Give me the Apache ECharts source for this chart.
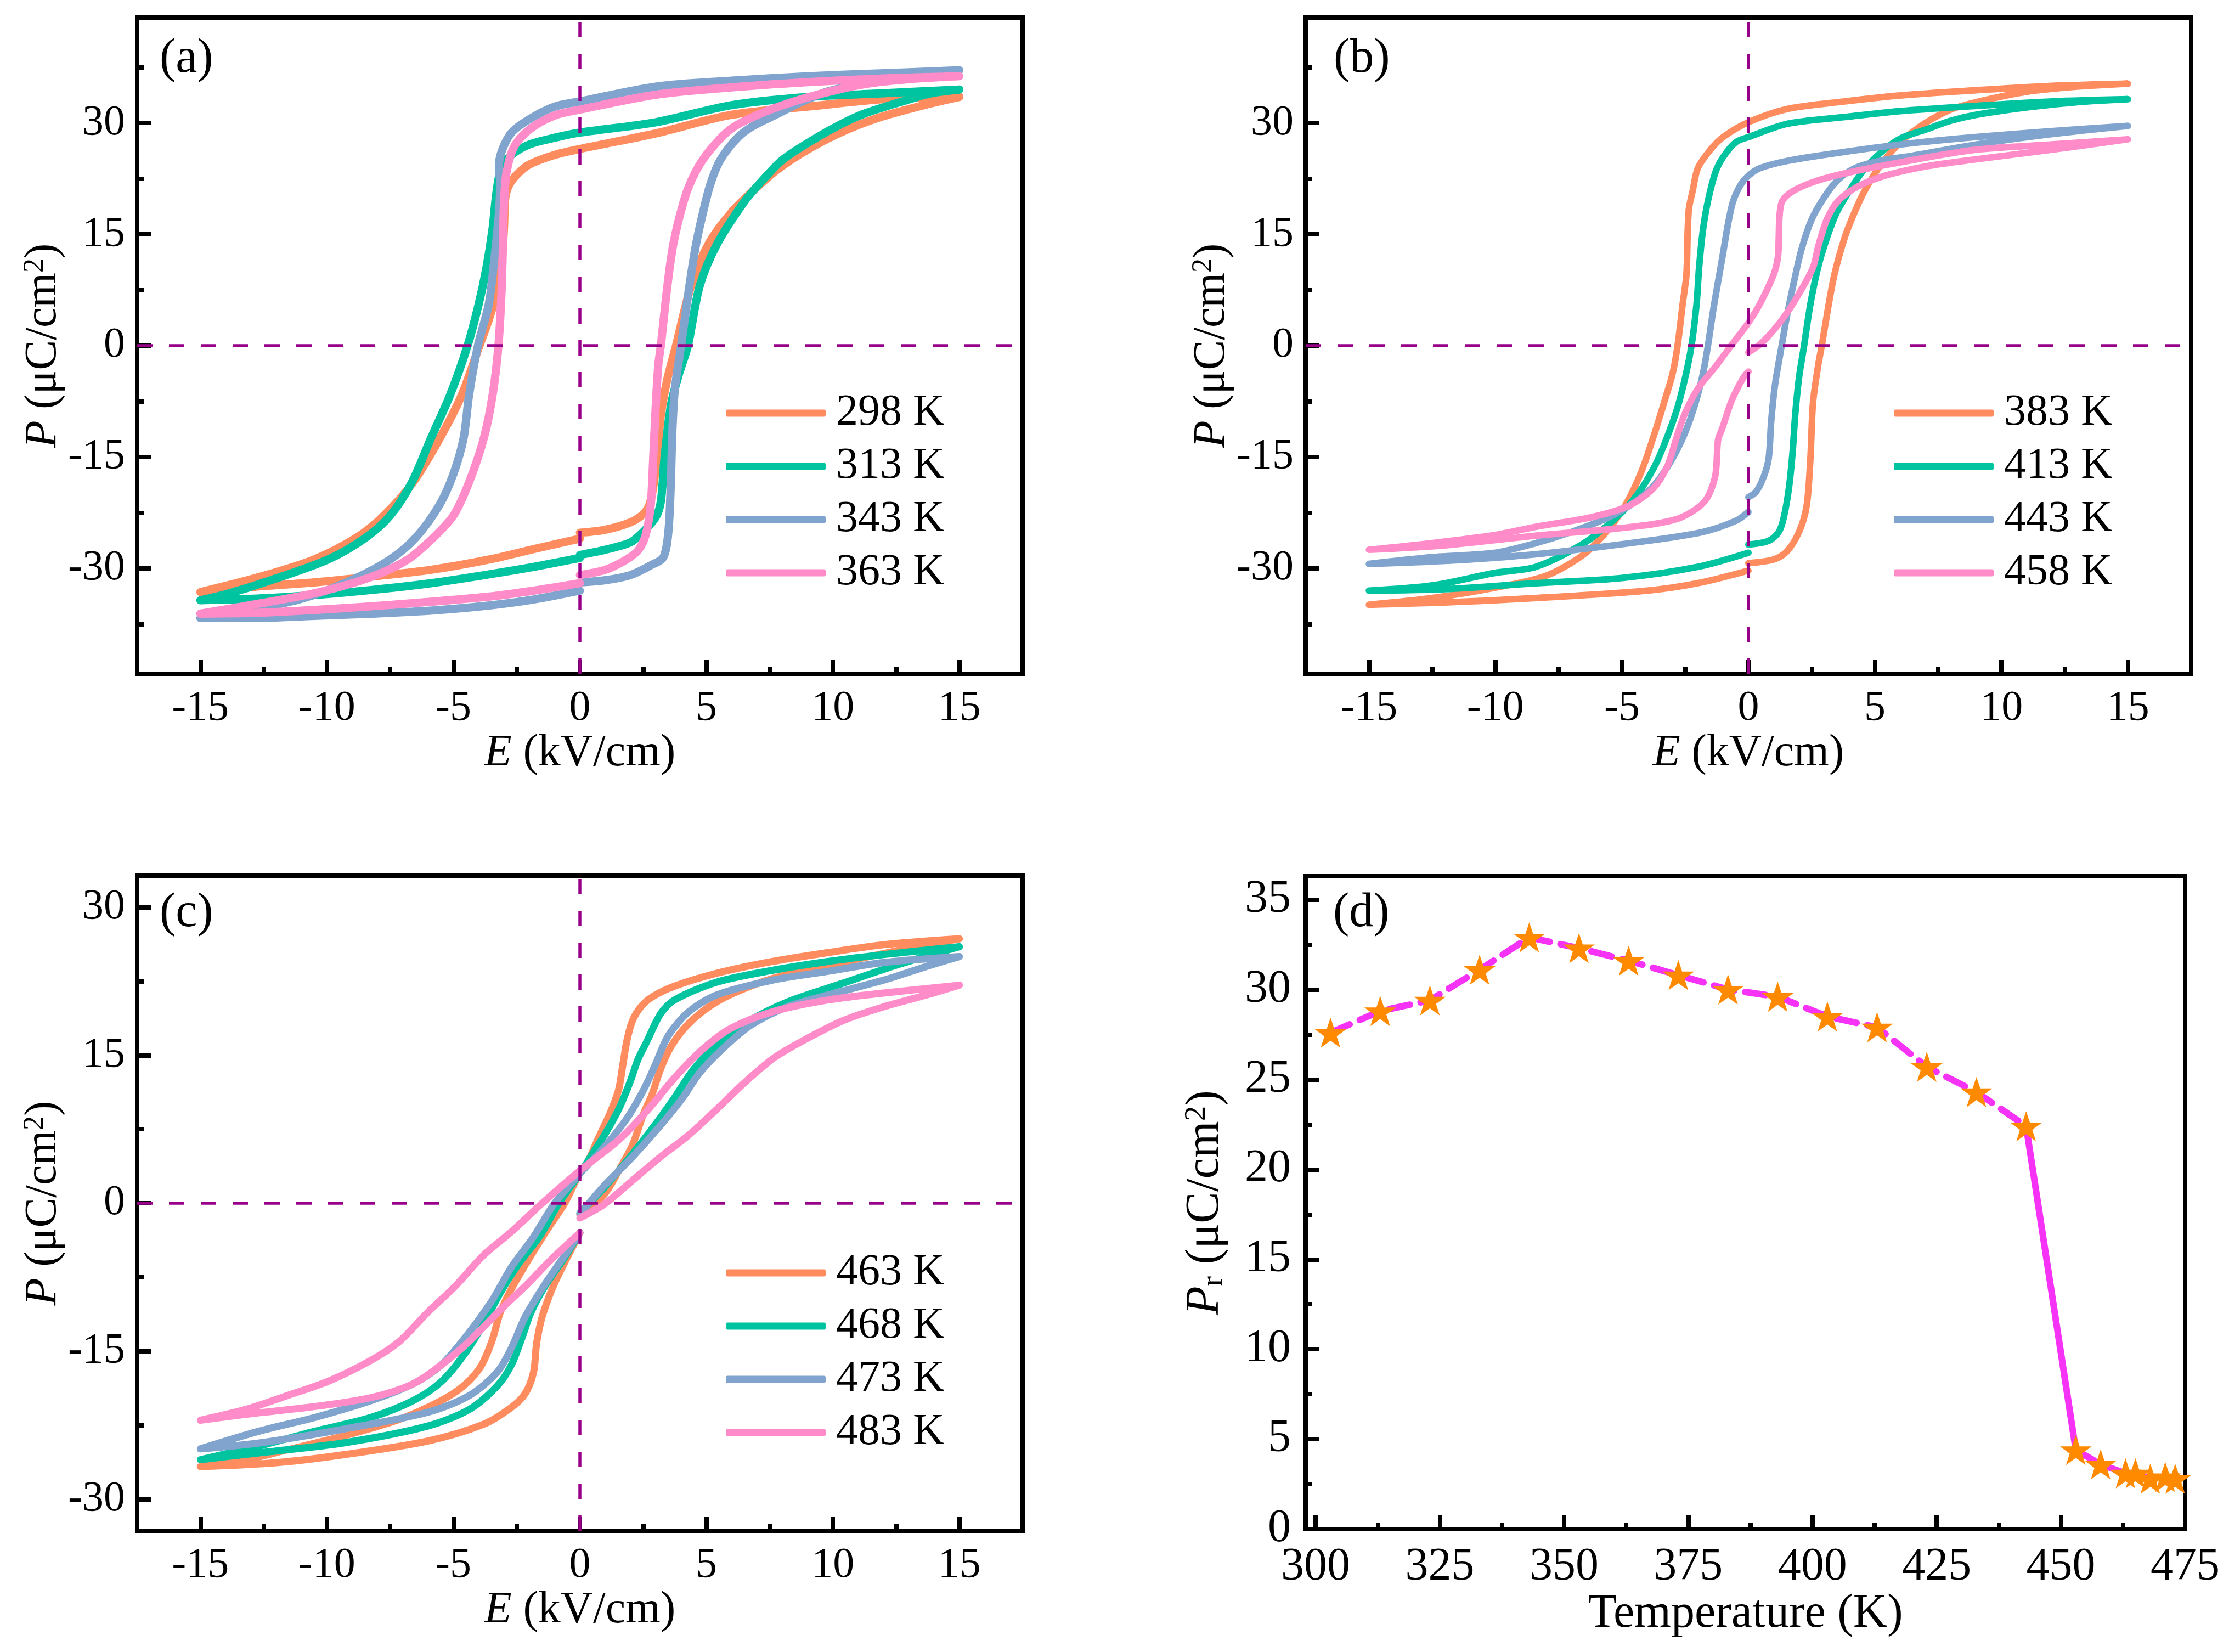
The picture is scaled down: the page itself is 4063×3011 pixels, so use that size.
<!DOCTYPE html>
<html>
<head>
<meta charset="utf-8">
<script src="https://cdn.jsdelivr.net/npm/echarts@6/dist/echarts.min.js"></script>
<style>
  html, body { margin: 0; padding: 0; background: #fff; }
  #chart { width: 4063px; height: 3011px; }
</style>
</head>
<body>
<div id="chart"></div>
<script>
// ---- data ----
// each loop: start at E=0 (lower branch) -> +15 -> upper branch -> -15 -> lower branch -> E=0
const namesA = ['298 K', '313 K', '343 K', '363 K'];
const namesB = ['383 K', '413 K', '443 K', '458 K'];
const namesC = ['463 K', '468 K', '473 K', '483 K'];

const loop298 = [[0,-25.2],[1,-24.8],[2,-23.8],[2.5,-22.7],[2.75,-21.4],[2.9,-19],[3.05,-14.9],[3.2,-9.4],[3.45,-4.6],[3.8,0],[4.4,8.1],[5.1,13.8],[6.0,18],[6.83,20.8],[7.76,23.6],[8.9,26.2],[10.3,28.7],[11.8,30.7],[13.6,32.4],[15,33.5],
  [12,33.2],[9,32.2],[6,31.1],[3,28.6],[0,26.5],[-1,25.7],[-2,24.4],[-2.5,23],[-2.8,21.6],[-2.95,19.9],[-3.0,15.8],[-3.1,11.1],[-3.3,7],[-3.6,3.5],[-3.97,0],[-4.67,-6.65],[-5.54,-12.5],[-6.59,-18.4],[-7.75,-22.9],[-8.8,-25.8],[-10.5,-28.8],[-12.6,-31.1],[-15,-33.2],
  [-12.9,-32.5],[-10.5,-31.9],[-8.2,-31.1],[-5.9,-30.2],[-3.57,-28.8],[-1.82,-27.4],[0,-26.0]];
const loop313 = [[0,-28.2],[1,-27.5],[2,-26.5],[2.5,-25.1],[3,-23.1],[3.2,-21],[3.35,-14.9],[3.6,-8],[3.9,-4],[4.27,0],[4.74,8.1],[5.44,13.8],[6.5,19.4],[7.2,22.2],[8.0,25],[9.3,27.9],[10.3,29.8],[11.2,31.2],[12.75,32.9],[13.9,34.0],[15,34.5],
  [12,34.0],[9,33.5],[6,32.4],[3,30.1],[0,28.7],[-1,28.0],[-2,27.1],[-2.7,25.7],[-3.1,24],[-3.3,20.6],[-3.45,15.8],[-3.7,10.4],[-4.0,5.6],[-4.44,0],[-5.13,-6.65],[-5.89,-12.5],[-6.64,-18.4],[-7.5,-22.9],[-8.44,-25.8],[-9.95,-28.8],[-12.3,-31.7],[-14,-33.5],[-15,-34.3],
  [-12.9,-34.1],[-10.5,-33.6],[-8.2,-32.9],[-5.9,-32.0],[-3.57,-30.8],[-1.82,-29.8],[0,-28.6]];
const loop343 = [[0,-31.9],[1,-31.6],[2,-30.9],[2.8,-29.6],[3.3,-28.5],[3.5,-25],[3.6,-18],[3.65,-12],[3.75,-6],[4.0,0],[4.33,8.1],[4.6,13.8],[4.97,19.4],[5.2,22.2],[5.55,25],[6.2,27.9],[6.8,29.5],[7.8,31.2],[8.8,32.9],[9.85,34.3],[11.2,35.3],[13,36.3],[15,37.1],
  [12,36.7],[9,36.3],[6,35.7],[3,34.9],[0,32.9],[-1,32.2],[-2,30.5],[-2.7,28.7],[-3.1,26.1],[-3.2,24],[-3.15,22],[-3.2,17.9],[-3.4,11.1],[-3.6,5.6],[-4.03,0],[-4.38,-6.65],[-4.6,-12.5],[-5.0,-17.3],[-5.54,-21.4],[-6.47,-25.8],[-7.5,-28.8],[-9.1,-31.7],[-11,-34.1],[-12.9,-35.5],[-15,-36.7],
  [-12.9,-36.7],[-10.5,-36.4],[-8.2,-36.1],[-5.9,-35.7],[-3.57,-35.0],[-1.82,-34.2],[0,-33.0]];
const loop363 = [[0,-30.9],[1,-30.2],[1.8,-28.9],[2.3,-27.6],[2.6,-25.5],[2.8,-21.5],[2.9,-15],[3.0,-8],[3.1,-2.6],[3.2,0],[3.46,8.1],[3.7,13.8],[4.1,19.4],[4.4,22.2],[4.85,25],[5.55,27.9],[6.1,29.5],[7.1,31.2],[8.2,32.6],[9.5,33.9],[11.2,35.2],[13,35.9],[15,36.3],
  [12,36.0],[9,35.5],[6,34.8],[3,33.8],[0,31.8],[-1,31.0],[-2,29.1],[-2.6,26.8],[-2.9,23.3],[-3.0,19.2],[-3.05,12.4],[-3.1,7],[-3.22,0],[-3.45,-6.65],[-3.8,-12.5],[-4.38,-18.4],[-5.0,-22.9],[-5.77,-25.8],[-6.8,-28.8],[-8.2,-31.1],[-10.3,-33.2],[-12.6,-34.7],[-15,-36.1],
  [-12.9,-36.0],[-10.5,-35.6],[-8.2,-35.1],[-5.9,-34.5],[-3.57,-33.8],[-1.82,-33.0],[0,-32.0]];

const loop383 = [[0,-29.3],[1,-28.8],[1.5,-27.8],[2,-25.1],[2.3,-21.6],[2.45,-15.2],[2.55,-7.8],[2.75,-2.8],[2.9,0],[3.15,5.1],[3.4,9.6],[3.8,14.5],[4.2,18.0],[4.6,20.9],[5.2,24.2],[6,27.4],[7,30.0],[8,31.8],[9,32.8],[11,34.2],[13,34.9],[15,35.3],
  [12,35.0],[9,34.4],[6,33.7],[3.8,32.9],[1.56,31.9],[0,30.1],[-1,28.1],[-1.5,26.4],[-2,23.9],[-2.2,20.9],[-2.35,18.5],[-2.4,15.5],[-2.45,9.6],[-2.6,5.6],[-2.8,0],[-3.0,-3.8],[-3.3,-7.3],[-3.7,-11.7],[-4.2,-16.7],[-4.8,-21.1],[-5.5,-24.6],[-6.5,-28.1],[-8,-31.0],[-10,-32.6],[-12.5,-34.0],[-15,-34.9],
  [-12,-34.6],[-8.4,-34.0],[-4,-33.0],[-2,-32.0],[0,-30.3]];
const loop413 = [[0,-26.8],[0.8,-26.3],[1.2,-25.1],[1.4,-23.1],[1.6,-19.2],[1.75,-14.2],[1.85,-9.3],[2.0,-4.3],[2.2,0],[2.45,5.6],[2.75,10.5],[3.1,14.5],[3.5,18],[4.0,20.9],[4.5,23.4],[5.2,25.9],[6,27.9],[7,29.1],[8,30.3],[9,31.1],[11,32.1],[13,32.8],[15,33.2],
  [12,32.9],[9,32.3],[6,31.6],[3.8,30.8],[1.56,29.9],[0,28.1],[-0.5,27.4],[-1,25.4],[-1.3,23.4],[-1.6,19.5],[-1.8,15.5],[-1.95,10.5],[-2.05,5.6],[-2.25,0],[-2.5,-4.3],[-2.8,-8.3],[-3.2,-12.2],[-3.7,-16.2],[-4.4,-20.1],[-5.2,-23.1],[-6.5,-26.6],[-8.4,-29.8],[-10,-30.6],[-12.5,-32.3],[-15,-33.0],
  [-12,-32.8],[-8.4,-32.0],[-5,-31.3],[-2,-29.8],[0,-27.9]];
const loop443 = [[0,-20.4],[0.3,-19.7],[0.6,-17.7],[0.8,-15.2],[0.9,-10.2],[1.05,-5.3],[1.3,-0.3],[1.5,3.6],[1.8,8.6],[2.1,13.0],[2.5,17.0],[3.0,20.0],[3.5,22.2],[4.2,23.9],[5.2,24.9],[6.5,25.6],[9,27.1],[12,28.5],[15,29.6],
  [12,28.9],[9,28.1],[6,27.1],[3.8,26.1],[1.56,24.9],[0.45,23.9],[0,22.9],[-0.3,21.7],[-0.6,19.5],[-0.8,16.5],[-1.0,12.5],[-1.2,8.6],[-1.4,4.6],[-1.6,0],[-1.8,-3.8],[-2.1,-7.8],[-2.5,-11.7],[-3.0,-15.2],[-3.7,-18.7],[-4.5,-21.1],[-5.5,-23.1],[-7,-25.1],[-8.4,-26.6],[-10,-27.9],[-12.5,-28.5],[-15,-29.4],
  [-12,-29.0],[-8.4,-28.1],[-4,-26.3],[-1.8,-25.1],[-0.5,-23.6],[0,-22.4]];
const loop458 = [[0,-0.9],[0.45,0.15],[1.0,2.1],[1.56,4.6],[2.1,7.6],[2.55,10.5],[2.77,13.5],[3.1,17.0],[3.55,19.5],[4.3,21.4],[5.4,22.9],[7.1,24.2],[9,25.1],[12,26.4],[15,27.8],
  [12,27.1],[9,26.4],[6,24.7],[3.8,23.2],[2.7,22.2],[1.8,20.9],[1.34,19.5],[1.23,17.5],[1.2,14.5],[1.17,12.0],[1.0,9.6],[0.45,5.6],[0,3.1],[-0.65,0.15],[-1.3,-2.8],[-2.0,-5.8],[-2.53,-9.3],[-2.87,-12.7],[-3.2,-16.2],[-3.75,-19.2],[-4.75,-21.6],[-6.2,-23.1],[-8.4,-24.4],[-10,-25.5],[-12.5,-26.6],[-15,-27.5],
  [-12,-26.9],[-8.4,-25.6],[-5.1,-24.6],[-2.87,-23.4],[-1.76,-21.1],[-1.32,-17.7],[-1.2,-12.7],[-1.04,-11.2],[-0.65,-7.3],[-0.2,-4.3],[0,-3.5]];

const loop463 = [[0,-1.2],[0.97,0.9],[1.64,3.8],[2.08,5.9],[2.52,9.1],[2.85,11.0],[3.19,13.6],[3.63,16.0],[4.3,18.2],[5.4,20.4],[7.06,22.3],[8.7,23.5],[10.9,24.7],[13.1,25.9],[15,26.8],
  [12,26.2],[9.8,25.4],[7.6,24.5],[5.4,23.3],[3.74,22.0],[2.85,20.9],[2.41,19.9],[2.08,18.5],[1.86,16.5],[1.69,13.9],[1.53,11.5],[1.19,9.1],[0.75,6.7],[0.31,4.2],[0,3.1],[-0.6,0],[-1.27,-2.6],[-2.05,-5.8],[-2.71,-8.7],[-3.15,-11.1],[-3.48,-14.0],[-3.93,-16.6],[-4.59,-18.5],[-5.48,-20.0],[-7.13,-21.9],[-9.35,-23.6],[-11.56,-25.0],[-13.2,-26.0],[-15,-26.7],
  [-12,-26.3],[-9.35,-25.5],[-6.0,-24.1],[-3.8,-22.4],[-2.71,-20.7],[-2.16,-19.3],[-1.83,-17.1],[-1.71,-14.2],[-1.49,-11.5],[-1.05,-8.4],[-0.5,-5.5],[0,-3.0]];
const loop468 = [[0,-1.0],[0.97,1.6],[2.08,5.0],[2.96,7.9],[3.74,10.7],[4.5,13.6],[5.4,16.0],[6.5,18.2],[8.2,20.4],[10.4,22.3],[12.6,24.2],[15,26.0],
  [12,25.2],[9.8,24.5],[7.6,23.6],[5.4,22.4],[3.74,20.6],[3.19,19.2],[2.63,16.3],[2.3,14.6],[1.97,12.2],[1.53,9.5],[0.97,6.9],[0.42,4.7],[0,3.0],[-0.83,0],[-1.6,-3.4],[-2.38,-6.0],[-3.15,-9.1],[-3.82,-12.3],[-4.59,-15.4],[-5.48,-18.1],[-6.58,-20.0],[-8.24,-21.7],[-10.45,-23.1],[-12.67,-24.6],[-15,-26.0],
  [-12.67,-25.3],[-9.35,-24.3],[-6.03,-22.6],[-4.37,-20.9],[-3.26,-18.5],[-2.71,-16.4],[-2.27,-13.5],[-1.94,-11.1],[-1.38,-8.4],[-0.6,-5.5],[0,-3.0]];
const loop473 = [[0,-1.1],[0.97,1.8],[2.08,4.7],[3.19,7.9],[4.07,10.7],[4.73,13.2],[5.62,15.6],[6.73,18.0],[8.2,19.9],[9.8,21.1],[12.0,22.6],[13.7,24.0],[15,25.0],
  [12,24.4],[9.8,23.5],[7.6,22.6],[5.4,21.1],[4.3,19.4],[3.5,17.0],[2.96,13.9],[2.52,11.5],[1.86,8.6],[0.97,5.7],[0,3.0],[-1.0,0],[-1.83,-3.4],[-2.71,-6.5],[-3.48,-9.9],[-4.5,-13.5],[-5.48,-16.4],[-6.58,-18.3],[-8.24,-20.0],[-10.45,-21.7],[-12.67,-23.1],[-15,-24.9],
  [-12.67,-24.3],[-9.35,-22.9],[-6.03,-21.2],[-4.37,-19.5],[-3.26,-17.1],[-2.71,-14.7],[-2.16,-11.5],[-1.38,-8.2],[-0.6,-5.3],[0,-3.0]];
const loop483 = [[0,-1.5],[0.97,-0.1],[2.08,2.3],[3.19,4.7],[4.3,6.9],[5.4,9.5],[6.5,12.2],[7.6,14.6],[8.7,16.3],[10.4,18.5],[12.0,19.9],[13.7,21.1],[15,22.1],
  [12,21.3],[9.8,20.6],[7.6,19.4],[5.95,17.7],[4.85,15.6],[3.74,12.7],[2.63,9.3],[1.53,6.4],[0,3.3],[-1.49,0],[-2.71,-2.9],[-3.82,-5.3],[-4.92,-8.4],[-6.03,-11.1],[-7.13,-14.0],[-8.24,-15.9],[-9.9,-18.0],[-11.56,-19.5],[-13.2,-20.9],[-15,-22.0],
  [-13.2,-21.4],[-10.45,-20.6],[-8.24,-19.7],[-6.58,-18.3],[-5.48,-16.4],[-4.37,-14.0],[-3.26,-11.1],[-2.16,-8.4],[-1.05,-5.5],[0,-3.0]];

const prTemp  = [303, 313, 323, 333, 343, 353, 363, 373, 383, 393, 403, 413, 423, 433, 443, 453, 458, 463, 465, 468, 471, 473];
const prValue = [27.6, 28.8, 29.4, 31.1, 32.9, 32.3, 31.6, 30.8, 30.0, 29.6, 28.5, 27.9, 25.7, 24.3, 22.4, 4.4, 3.6, 3.1, 3.1, 2.8, 2.9, 2.8];

// tick labels
const eTicks = [-15, -10, -5, 0, 5, 10, 15];
const eMinor = [-12.5, -7.5, -2.5, 2.5, 7.5, 12.5];
const pTicks = [-30, -15, 0, 15, 30];
const pMinorAB = [-37.5, -22.5, -7.5, 7.5, 22.5, 37.5];
const pMinorC = [-22.5, -7.5, 7.5, 22.5];
const tTicks = [300, 325, 350, 375, 400, 425, 450, 475];
const tMinor = [312.5, 337.5, 362.5, 387.5, 412.5, 437.5, 462.5];
const prTicks = [0, 5, 10, 15, 20, 25, 30, 35];
const prMinor = [2.5, 7.5, 12.5, 17.5, 22.5, 27.5, 32.5];

const FONT = '"Liberation Serif", "Times New Roman", "DejaVu Serif", serif';
const colors = ['#FF8C5F', '#00C4A0', '#80A4CE', '#FF8BC8'];
const zeroColor = '#98008A';

const chart = echarts.init(document.getElementById('chart'));

const grids = [
  { left: 250, top: 32, width: 1614, height: 1196 },
  { left: 2380, top: 32, width: 1614, height: 1196 },
  { left: 250, top: 1596, width: 1614, height: 1194 },
  { left: 2380, top: 1597, width: 1603, height: 1190 }
];

function mainAxis(gi, min, max, ticks, o) {
  return {
    type: 'value', gridIndex: gi, min: min, max: max, position: o.pos,
    axisLine: { show: true, onZero: false, lineStyle: { color: '#000', width: 8 } },
    axisTick: { show: true, inside: true, length: 25, customValues: ticks, lineStyle: { color: '#000', width: 8 } },
    axisLabel: { customValues: ticks, margin: o.margin, color: '#000', fontFamily: FONT, fontSize: o.fontSize },
    splitLine: { show: false },
    name: o.name, nameLocation: 'middle', nameGap: o.nameGap,
    nameTextStyle: {
      color: '#000', fontFamily: FONT, fontSize: o.titleSize,
      rich: {
        n: { fontFamily: FONT, fontSize: o.titleSize },
        i: { fontStyle: 'italic', fontFamily: FONT, fontSize: o.titleSize },
        sup: { fontFamily: FONT, fontSize: Math.round(o.titleSize * 0.64), verticalAlign: 'top' },
        sub: { fontFamily: FONT, fontSize: Math.round(o.titleSize * 0.64), verticalAlign: 'bottom' }
      }
    }
  };
}
function minorAxis(gi, min, max, ticks, pos) {
  return {
    type: 'value', gridIndex: gi, min: min, max: max, position: pos,
    axisLine: { show: false, onZero: false },
    axisTick: { show: true, inside: true, length: 12, customValues: ticks, lineStyle: { color: '#000', width: 8 } },
    axisLabel: { show: false },
    splitLine: { show: false }
  };
}

const eName = '{i|E}{n| (kV/cm)}';
const pName = '{i|P}{n| (μC/cm}{sup|2}{n|)}';

const xAxes = [], yAxes = [];
[0, 1, 2].forEach(gi => {
  xAxes.push(mainAxis(gi, -17.5, 17.5, eTicks, { pos: 'bottom', margin: 25, fontSize: 78, name: eName, nameGap: 104, titleSize: 82 }));
  xAxes.push(minorAxis(gi, -17.5, 17.5, eMinor, 'bottom'));
  const ext = gi === 2 ? 33.2 : 44.2;
  yAxes.push(mainAxis(gi, -ext, ext, pTicks, { pos: 'left', margin: 22, fontSize: 78, name: pName, nameGap: 128, titleSize: 82 }));
  yAxes.push(minorAxis(gi, -ext, ext, gi === 2 ? pMinorC : pMinorAB, 'left'));
});
xAxes.push(mainAxis(3, 298, 475, tTicks, { pos: 'bottom', margin: 28, fontSize: 84, name: '{n|Temperature (K)}', nameGap: 108, titleSize: 86 }));
xAxes.push(minorAxis(3, 298, 475, tMinor, 'bottom'));
yAxes.push(mainAxis(3, 0, 36.3, prTicks, { pos: 'left', margin: 27, fontSize: 84, name: '{i|P}{sub|r}{n| (μC/cm}{sup|2}{n|)}', nameGap: 140, titleSize: 86 }));
yAxes.push(minorAxis(3, 0, 36.3, prMinor, 'left'));

const series = [];
const panels = [
  { names: namesA, loops: [loop298, loop313, loop343, loop363], width: 15 },
  { names: namesB, loops: [loop383, loop413, loop443, loop458], width: 12 },
  { names: namesC, loops: [loop463, loop468, loop473, loop483], width: 13 }
];
panels.forEach((p, gi) => {
  p.loops.forEach((loop, k) => {
    series.push({
      name: p.names[k], type: 'line', xAxisIndex: gi * 2, yAxisIndex: gi * 2,
      data: loop, showSymbol: false, smooth: 0.3, z: 2,
      lineStyle: { color: colors[k], width: p.width, cap: 'round', join: 'round' },
      itemStyle: { color: colors[k] }
    });
  });
  // dashed zero lines
  series.push({
    type: 'line', xAxisIndex: gi * 2, yAxisIndex: gi * 2, data: [], silent: true, z: 5,
    markLine: {
      silent: true, symbol: ['none', 'none'], label: { show: false },
      lineStyle: { color: zeroColor, width: 5.5, type: [28, 30] },
      data: [{ xAxis: 0 }, { yAxis: 0 }]
    }
  });
});

const prPts = prTemp.map((t, i) => [t, prValue[i]]);
series.push({
  type: 'line', xAxisIndex: 6, yAxisIndex: 6, data: prPts.slice(0, 15), showSymbol: false, z: 2,
  lineStyle: { color: '#F532F5', width: 12, type: [38, 20], cap: 'round' }
});
series.push({
  type: 'line', xAxisIndex: 6, yAxisIndex: 6, data: prPts.slice(14, 16), showSymbol: false, z: 2,
  lineStyle: { color: '#F532F5', width: 12, cap: 'round' }
});
series.push({
  type: 'line', xAxisIndex: 6, yAxisIndex: 6, data: prPts.slice(15), showSymbol: false, z: 2,
  lineStyle: { color: '#F532F5', width: 12, type: [38, 20], cap: 'round' }
});
series.push({
  type: 'scatter', xAxisIndex: 6, yAxisIndex: 6, data: prPts, z: 4,
  symbol: 'path://M50,0 L61.8,35.1 L98.9,35.1 L68.9,56.9 L80.2,92.1 L50,70.5 L19.8,92.1 L31.1,56.9 L1.1,35.1 L38.2,35.1 Z',
  symbolSize: [58, 55], itemStyle: { color: '#FF8A00', opacity: 1 }
});

function legendFor(names, left, top) {
  return {
    data: names, orient: 'vertical', left: left, top: top, padding: 0,
    itemWidth: 182, itemHeight: 13, itemGap: 17, icon: 'roundRect', selectedMode: false,
    textStyle: { color: '#000', fontFamily: FONT, fontSize: 80, lineHeight: 78, padding: [0, 0, 0, 14] }
  };
}

function panelLabel(text, left, top) {
  return { text: text, left: left, top: top, padding: 0,
    textStyle: { color: '#000', fontFamily: FONT, fontSize: 88, fontWeight: 'normal' } };
}

chart.setOption({
  backgroundColor: '#fff',
  animation: false,
  textStyle: { fontFamily: FONT },
  title: [
    panelLabel('(a)', 291, 64),
    panelLabel('(b)', 2431, 64),
    panelLabel('(c)', 291, 1621),
    panelLabel('(d)', 2430, 1621)
  ],
  legend: [
    legendFor(namesA, 1323, 713),
    legendFor(namesB, 3452, 713),
    legendFor(namesC, 1323, 2280)
  ],
  grid: grids.map(g => Object.assign({ show: true, borderColor: '#000', borderWidth: 8, containLabel: false, outerBoundsMode: 'none' }, g)),
  xAxis: xAxes,
  yAxis: yAxes,
  series: series
});
</script>
</body>
</html>
